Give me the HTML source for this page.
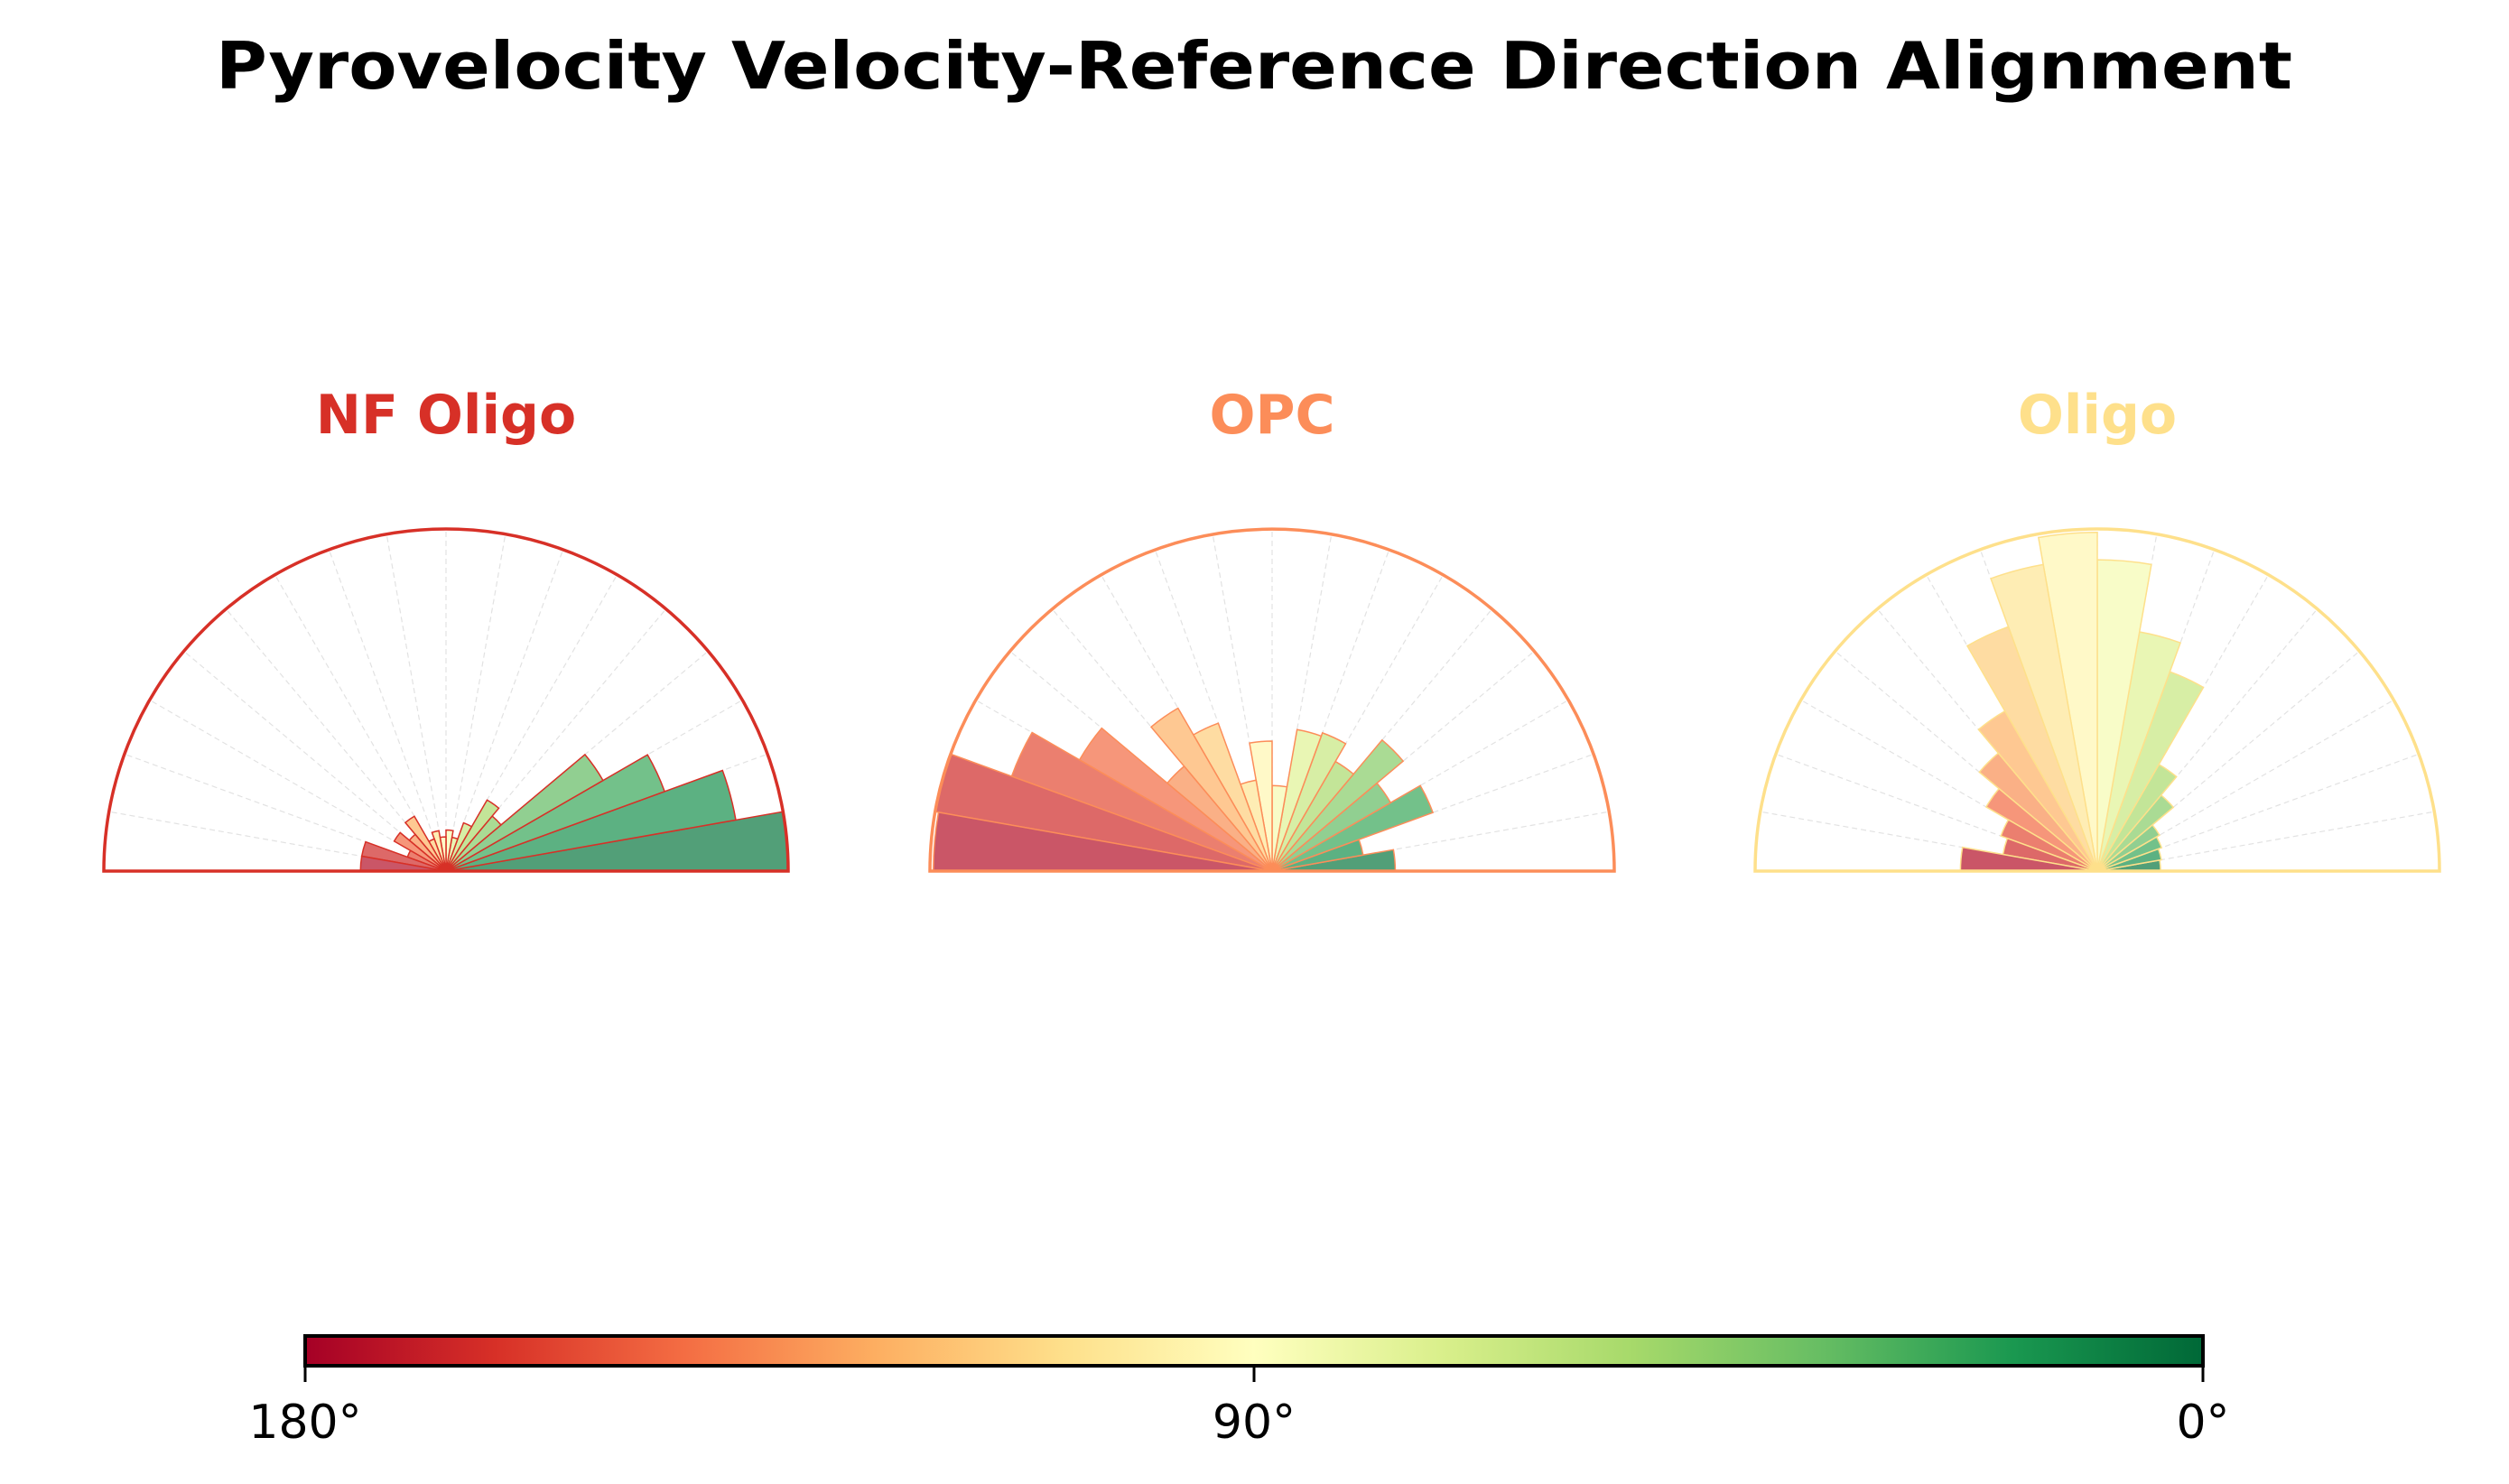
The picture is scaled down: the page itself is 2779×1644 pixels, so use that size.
<!DOCTYPE html>
<html><head><meta charset="utf-8"><style>
html,body{margin:0;padding:0;background:#fff;}
svg{display:block;font-family:"DejaVu Sans","Liberation Sans",sans-serif;}
</style></head><body>
<svg id="fig" width="2779" height="1644" viewBox="0 0 2779 1644" xmlns="http://www.w3.org/2000/svg">
<rect width="2779" height="1644" fill="#fff"/>
<text x="1389" y="98" text-anchor="middle" font-size="72" font-weight="bold" fill="#000" textLength="2300" lengthAdjust="spacingAndGlyphs">Pyrovelocity Velocity-Reference Direction Alignment</text>
<g id="panels"></g>
<defs>
<linearGradient id="cbgrad" x1="0" x2="1" y1="0" y2="0">
<stop offset="0" stop-color="#a50026"/><stop offset="0.1" stop-color="#d73027"/><stop offset="0.2" stop-color="#f46d43"/><stop offset="0.3" stop-color="#fdae61"/><stop offset="0.4" stop-color="#fee08b"/><stop offset="0.5" stop-color="#ffffbf"/><stop offset="0.6" stop-color="#d9ef8b"/><stop offset="0.7" stop-color="#a6d96a"/><stop offset="0.8" stop-color="#66bd63"/><stop offset="0.9" stop-color="#1a9850"/><stop offset="1" stop-color="#006837"/>
</linearGradient>
</defs>
<g>
<rect x="338" y="1480" width="2102" height="33" fill="url(#cbgrad)" stroke="#000" stroke-width="4"/>
<g id="cbticks"></g>
</g>
</svg>
<script>
const NS="http://www.w3.org/2000/svg";
const panelNames=["NF Oligo","OPC","Oligo"];
const panelColors=["#d73027","#fc8d59","#fee08b"];
// bin values (fraction of max), bins 0-10°, 10-20°, ... 170-180°
const nfOligo=[1.0,0.86,0.68,0.53,0.21,0.24,0.15,0.10,0.12,0.10,0.12,0.10,0.185,0.14,0.175,0.12,0.25,0.25];
const opc=[0.36,0.27,0.50,0.40,0.50,0.37,0.43,0.42,0.25,0.38,0.27,0.46,0.55,0.40,0.65,0.81,1.0,0.99];
const oligo=[0.185,0.19,0.20,0.21,0.29,0.36,0.62,0.71,0.91,0.99,0.91,0.76,0.54,0.45,0.375,0.30,0.28,0.40];
const panelData=[nfOligo,opc,oligo];
const cbTickVals=[180,90,0];
const cbTickLabels=["180°","90°","0°"];

const stops=["#a50026","#d73027","#f46d43","#fdae61","#fee08b","#ffffbf","#d9ef8b","#a6d96a","#66bd63","#1a9850","#006837"];
function hex(h){return [1,3,5].map(i=>parseInt(h.substr(i,2),16));}
function cmap(t){t=Math.max(0,Math.min(1,t));const p=t*10,i=Math.min(9,Math.floor(p)),f=p-i;const a=hex(stops[i]),b=hex(stops[i+1]);return a.map((v,k)=>v+(b[k]-v)*f);}
function fillFor(angleDeg){const c=cmap(1-angleDeg/180);const al=0.7;return "rgb("+c.map(v=>Math.round(v*al+255*(1-al))).join(",")+")";}

const centersX=[494,1409,2323], cy=965, R=379;
function px(cx,r,deg){return cx+r*Math.cos(deg*Math.PI/180);}
function py(r,deg){return cy-r*Math.sin(deg*Math.PI/180);}
const root=document.getElementById("panels");
panelData.forEach((vals,p)=>{
  const cx=centersX[p];
  const g=document.createElementNS(NS,"g");
  
  
  root.appendChild(g);
  for(let a=10;a<180;a+=10){
    const l=document.createElementNS(NS,"line");
    
    
    l.setAttribute("x1",cx);l.setAttribute("y1",cy);l.setAttribute("x2",px(cx,R,a));l.setAttribute("y2",py(R,a));
    l.setAttribute("stroke","#e2e2e2");l.setAttribute("stroke-width","1.2");l.setAttribute("stroke-dasharray","6,4");
    g.appendChild(l);
  }
  vals.forEach((v,i)=>{
    const a0=i*10,a1=i*10+10,r=v*R;
    const d="M"+cx+","+cy+" L"+px(cx,r,a0)+","+py(r,a0)+" A"+r+","+r+" 0 0 0 "+px(cx,r,a1)+","+py(r,a1)+" Z";
    const path=document.createElementNS(NS,"path");
    
    
    path.setAttribute("d",d);path.setAttribute("fill",fillFor(a0+5));
    path.setAttribute("stroke",panelColors[p]);path.setAttribute("stroke-width","1.5");
    g.appendChild(path);
  });
  const fr=document.createElementNS(NS,"path");
  
  
  fr.setAttribute("d","M"+(cx-R)+","+cy+" A"+R+","+R+" 0 0 1 "+(cx+R)+","+cy+" Z");
  fr.setAttribute("fill","none");fr.setAttribute("stroke",panelColors[p]);fr.setAttribute("stroke-width","3.5");
  g.appendChild(fr);
  const t=document.createElementNS(NS,"text");
  
  
  t.setAttribute("x",cx);t.setAttribute("y",480);t.setAttribute("text-anchor","middle");
  t.setAttribute("font-size","60");t.setAttribute("font-weight","bold");t.setAttribute("fill",panelColors[p]);
  t.textContent=panelNames[p];
  g.appendChild(t);
});
const cbg=document.getElementById("cbticks");
function cbx(v){return 338+(180-v)/180*2102;}
cbTickVals.forEach((v,i)=>{
  const l=document.createElementNS(NS,"line");
  
  
  l.setAttribute("x1",cbx(v));l.setAttribute("x2",cbx(v));l.setAttribute("y1",1513);l.setAttribute("y2",1531);
  l.setAttribute("stroke","#000");l.setAttribute("stroke-width","3");
  cbg.appendChild(l);
  const t=document.createElementNS(NS,"text");
  
  
  t.setAttribute("x",cbx(v));t.setAttribute("y",1593);t.setAttribute("text-anchor","middle");
  t.setAttribute("font-size","52");t.setAttribute("fill","#000");
  t.textContent=cbTickLabels[i];
  cbg.appendChild(t);
});
</script>
</body></html>
